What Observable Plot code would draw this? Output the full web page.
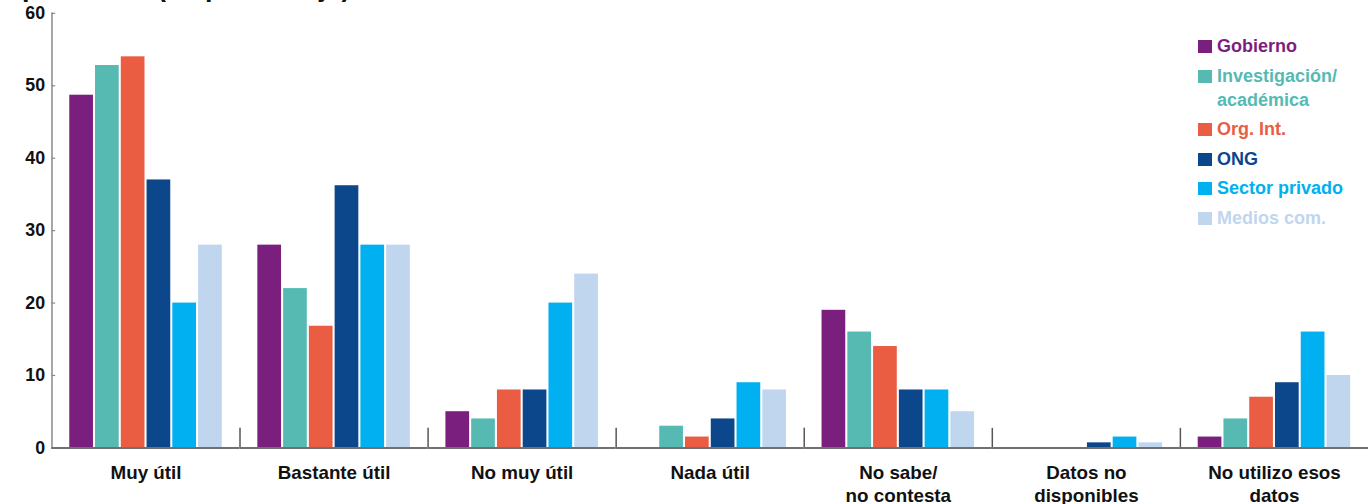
<!DOCTYPE html>
<html><head><meta charset="utf-8">
<script src="https://cdn.jsdelivr.net/npm/d3@7"></script>
<script src="https://cdn.jsdelivr.net/npm/@observablehq/plot@0.6"></script>
<style>
html,body{margin:0;padding:0;background:#fff;overflow:hidden;width:1369px;height:504px}
#wrap{position:relative;width:1369px;height:504px;overflow:hidden}
#chart{position:absolute;left:0;top:0}
#title{position:absolute;left:22px;top:-26px;font:bold 27px "Liberation Sans",Arial,sans-serif;line-height:26px;white-space:nowrap;color:#111;z-index:2}
#legend{position:absolute;left:1198px;top:34px;font:bold 18px "Liberation Sans",Arial,sans-serif;line-height:24px;z-index:2}
#legend .item{position:relative;padding-left:19px;margin-bottom:5.5px}
#legend .sw{position:absolute;left:0;top:6px;width:14px;height:13px}
</style>
</head><body>
<div id="wrap">
  <div id="chart"></div>
  <div id="title">población (en porcentaje)</div>
  <div id="legend"></div>
</div>
<script>
const groups = ["Muy útil", "Bastante útil", "No muy útil", "Nada útil", "No sabe/\nno contesta", "Datos no\ndisponibles", "No utilizo esos\ndatos"];
const series = ["Gobierno", "Investigación/académica", "Org. Int.", "ONG", "Sector privado", "Medios com."];
const legendLabels = ["Gobierno", "Investigación/<br>académica", "Org. Int.", "ONG", "Sector privado", "Medios com."];
const colors = ["#7B1F7E", "#56BAB3", "#EA5D42", "#0C468B", "#00B0F0", "#BFD6EE"];
const gobierno      = [48.7, 28.0, 5.0, 0.0, 19.0, 0.0, 1.5];
const investigacion = [52.8, 22.0, 4.0, 3.0, 16.0, 0.0, 4.0];
const orgInt        = [54.0, 16.8, 8.0, 1.5, 14.0, 0.0, 7.0];
const ong           = [37.0, 36.2, 8.0, 4.0, 8.0, 0.7, 9.0];
const sectorPrivado = [20.0, 28.0, 20.0, 9.0, 8.0, 1.5, 16.0];
const medios        = [28.0, 28.0, 24.0, 8.0, 5.0, 0.7, 10.0];
const yTicks = [0, 10, 20, 30, 40, 50, 60];

const valueArrays = [gobierno, investigacion, orgInt, ong, sectorPrivado, medios];
const data = [];
groups.forEach((g, gi) => series.forEach((s, si) => data.push({group: g, series: s, value: valueArrays[si][gi]})));

const width = 1383, marginLeft = 51, marginRight = 0;
const padIn = 0.08, padOut = 0.69;
// distance from a facet's left edge to the centre of its first bar band
const facetW = (width - marginLeft - marginRight) / groups.length;
const step = facetW / (series.length - padIn + 2 * padOut);
const sepOffset = step * padOut + step * (1 - padIn) / 2;
const tickLen = 4;

const font = '"Liberation Sans", Arial, sans-serif';
const narrow = '"Liberation Sans Narrow", "Arial Narrow", "Liberation Sans", sans-serif';

const plot = Plot.plot({
  width, height: 504, marginLeft, marginRight, marginTop: 13, marginBottom: 52,
  style: {fontFamily: font, background: "white", color: "#111", overflow: "visible"},
  fx: {domain: groups, padding: 0, axis: null, label: null},
  x: {domain: series, paddingInner: padIn, paddingOuter: padOut, round: false, axis: null, label: null},
  y: {domain: [0, 60], axis: null, label: null},
  color: {domain: series, range: colors},
  marks: [
    Plot.barY(data, {fx: "group", x: "series", y: "value", fill: "series"}),
    Plot.ruleX(groups.slice(1), {fx: d => d, x: () => series[0], dx: -sepOffset, y1: 0, y2: 2.7, stroke: "#555", strokeWidth: 1.5}),
    Plot.ruleY(yTicks, {fx: () => groups[0], y: d => d, insetRight: facetW - tickLen, stroke: "#888", strokeWidth: 1.2}),
    Plot.frame({anchor: "left", facetAnchor: "left", stroke: "#888", strokeWidth: 1.5}),
    Plot.ruleY([0], {stroke: "#707070", strokeWidth: 2}),
    Plot.axisY({ticks: yTicks, tickSize: 0, tickPadding: 7, tickFormat: d => d, label: null, fontSize: 18, fontWeight: "bold", fontFamily: font}),
    Plot.axisFx({anchor: "bottom", tickSize: 0, tickPadding: 15, label: null, fontSize: 19, fontWeight: "bold", fontFamily: narrow, lineHeight: 1.22})
  ]
});
document.getElementById("chart").appendChild(plot);

const legend = document.getElementById("legend");
series.forEach((s, i) => {
  const item = document.createElement("div");
  item.className = "item";
  item.style.color = colors[i];
  item.innerHTML = `<span class="sw" style="background:${colors[i]}"></span>${legendLabels[i]}`;
  legend.appendChild(item);
});
</script>
</body></html>
